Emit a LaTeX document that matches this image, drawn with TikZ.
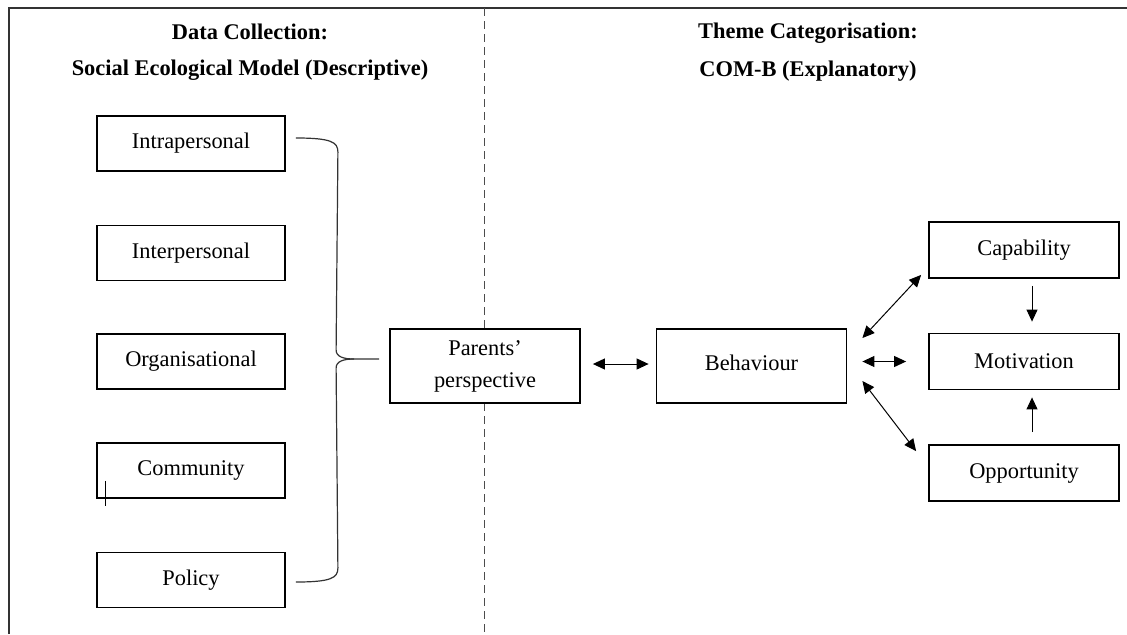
\documentclass[tikz,border=0pt]{standalone}
\usepackage{fontspec}
\setmainfont{Liberation Serif}
\usetikzlibrary{arrows.meta,positioning,calc}

\begin{document}
\begin{tikzpicture}[x=0.5pt, y=0.5pt, >={Triangle[length=6pt,width=5.5pt]},
  font=\fontsize{11.2}{16}\selectfont,
  lvl/.style={draw, line width=0.9pt, fill=white, minimum width=94pt, minimum height=27.5pt, inner sep=0pt},
  midbox/.style={draw, line width=0.9pt, fill=white, minimum width=95pt, minimum height=37pt, inner sep=0pt, align=center},
  com/.style={draw, line width=0.9pt, fill=white, minimum width=95pt, minimum height=28pt, inner sep=0pt},
  ttl/.style={font=\fontsize{11.2}{16}\selectfont\bfseries},
  lnk/.style={line width=0.5pt},
  brc/.style={line width=0.6pt, black!80},
  dashbit/.style={line width=0.4pt, black!70}]
\useasboundingbox (0,0) rectangle (1127,634);
% frame
\draw[line width=0.9pt, black!80] (9,0) -- (9,626) -- (1127,626);
% divider, broken by the parents box
\foreach \y in {626,613,...,314} \draw[dashbit] (484,\y) -- (484,\y-8);
\foreach \y in {231,218,...,10} \draw[dashbit] (484,\y) -- (484,\y-8);
% headings
\node[ttl] (h1) at (250,602) {Data Collection:};
\node[ttl] (h2) at (250,564) {Social Ecological Model (Descriptive)};
\node[ttl] (h3) at (808,601) {Theme Categorisation:};
\node[ttl] (h4) at (808,563) {COM-B (Explanatory)};
% social ecological levels
\node[lvl] (intra) at (191,490.5) {Intrapersonal};
\node[lvl] (inter) at (191,381) {Interpersonal};
\node[lvl] (organ) at (191,272.5) {Organisational};
\node[lvl] (comm) at (191,163.5) {Community};
\node[lvl] (policy) at (191,54) {Policy};
\draw[line width=0.4pt] ([shift={(9,18)}]comm.south west) -- ++(0,-25);
% centre
\node[midbox] (parents) at (485,268) {Parents’\\perspective};
\node[midbox] (behav) at (751.5,268) {\raisebox{3pt}{Behaviour}};
% COM-B components
\node[com] (capab) at (1024,384) {Capability};
\node[com] (motiv) at (1024,272.5) {Motivation};
\node[com] (oppor) at (1024,161) {Opportunity};
% brace from the levels to the parents
\coordinate (tip) at ([shift={(-10,7)}]parents.west);
\coordinate (bt) at ([shift={(10,5.5)}]intra.east);
\coordinate (bb) at ([shift={(10,-2)}]policy.east);
\draw[brc] (bt) .. controls +(35,0) and +(0,10) .. ($(bt)+(42,-14)$) -- ($(tip)+(-43,9)$)
  .. controls +(0,-7) and +(-10,0) .. ($(tip)+(-25,0)$) -- (tip);
\draw[brc] ($(tip)+(-25,0)$) .. controls +(-10,0) and +(0,7) .. ($(tip)+(-43,-9)$) -- ($(bb)+(42,14)$)
  .. controls +(0,-10) and +(35,0) .. (bb);
% arrows
\draw[lnk, <->] ([shift={(12,2)}]parents.east) -- ([shift={(-7,2)}]behav.west);
\draw[lnk, <->] ([shift={(15,0)}]behav.east |- motiv.west) -- ([xshift=-11]motiv.west);
\draw[lnk, <->] ([shift={(15,28)}]behav.east) -- ([shift={(-7,4)}]capab.south west);
\draw[lnk, <->] ([shift={(15,-15)}]behav.east) -- ([shift={(-12,-7)}]oppor.north west);
\draw[lnk, ->] ([shift={(8,-7)}]capab.south) -- ([shift={(8,11)}]motiv.north);
\draw[lnk, ->] ([shift={(8,12)}]oppor.north) -- ([shift={(8,-7)}]motiv.south);
\end{tikzpicture}
\end{document}
